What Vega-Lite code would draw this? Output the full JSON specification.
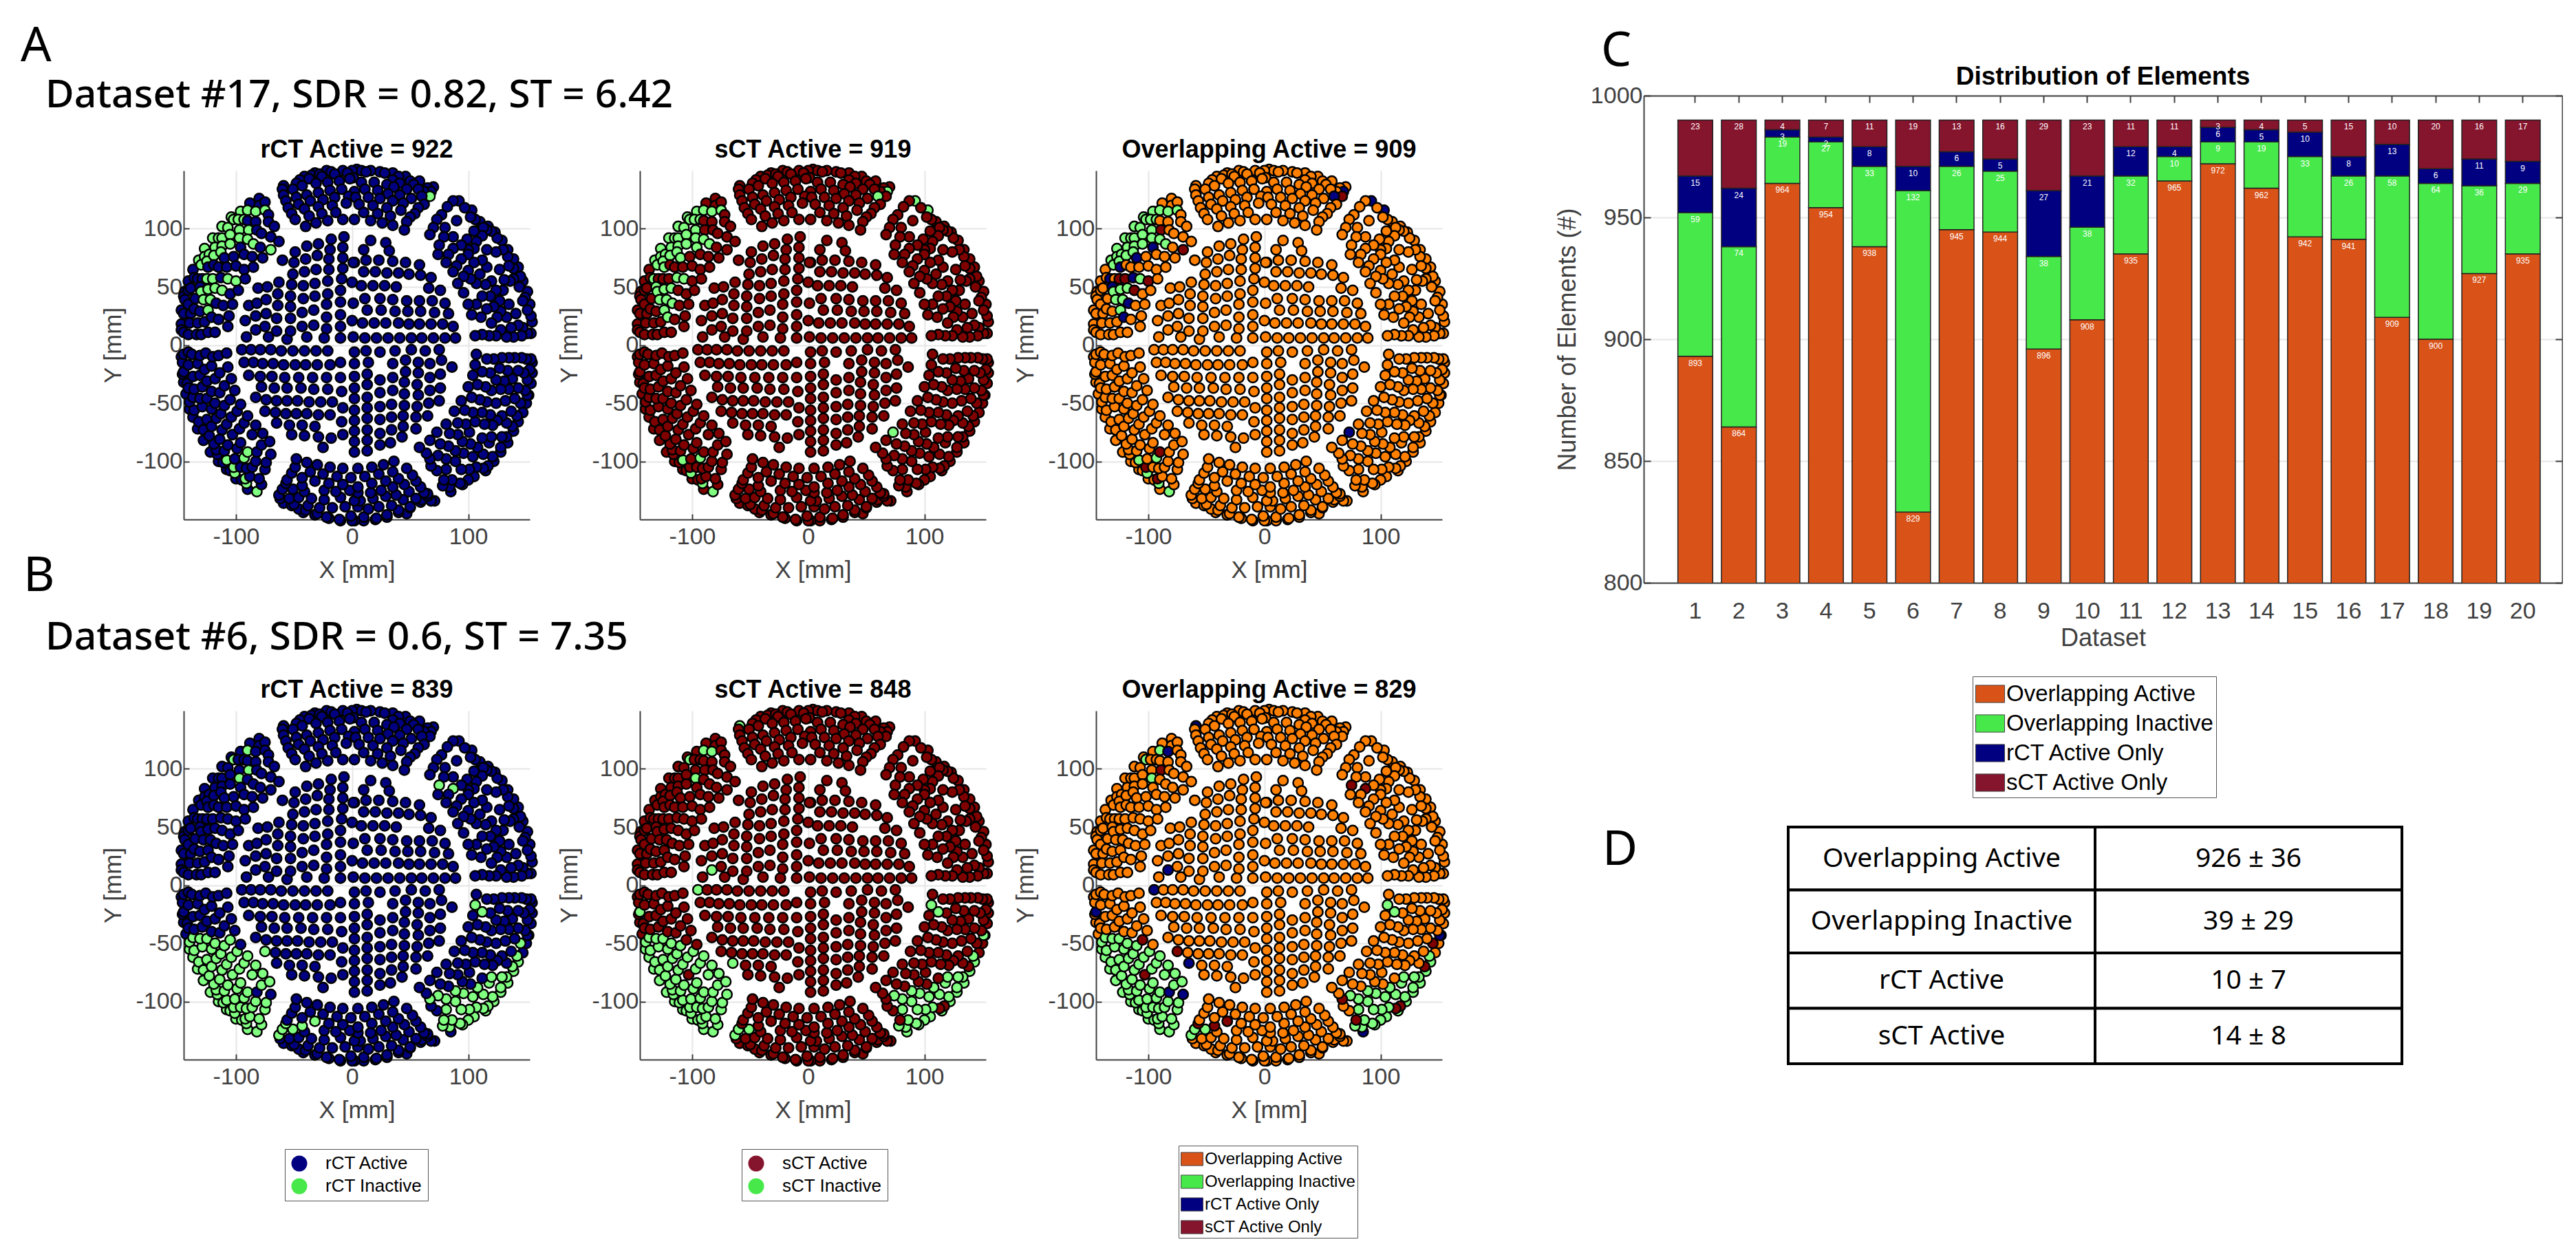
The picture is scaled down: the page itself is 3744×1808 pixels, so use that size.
{"$schema":"https://vega.github.io/schema/vega-lite/v6.json","padding":{"left":30,"top":33,"right":0,"bottom":0},"background":"white","config":{"view":{"stroke":null},"font":"Liberation Sans","title":{"font":"Liberation Sans","color":"#000"},"axis":{"labelFont":"Liberation Sans","titleFont":"Liberation Sans","labelColor":"#404040","titleColor":"#404040","domainColor":"#404040","tickColor":"#404040","gridColor":"#e6e6e6","gridWidth":2,"domainWidth":2,"tickWidth":2,"labelFontSize":34,"titleFontSize":35,"titleFontWeight":"normal"},"legend":{"labelFont":"Liberation Sans","labelColor":"#000","fillColor":"white","strokeColor":"#555","labelLimit":500},"concat":{"spacing":0}},
"datasets":{"bars":[
{"Dataset":1,"Overlapping Active":893,"Overlapping Inactive":59,"rCT Active Only":15,"sCT Active Only":23},
{"Dataset":2,"Overlapping Active":864,"Overlapping Inactive":74,"rCT Active Only":24,"sCT Active Only":28},
{"Dataset":3,"Overlapping Active":964,"Overlapping Inactive":19,"rCT Active Only":3,"sCT Active Only":4},
{"Dataset":4,"Overlapping Active":954,"Overlapping Inactive":27,"rCT Active Only":2,"sCT Active Only":7},
{"Dataset":5,"Overlapping Active":938,"Overlapping Inactive":33,"rCT Active Only":8,"sCT Active Only":11},
{"Dataset":6,"Overlapping Active":829,"Overlapping Inactive":132,"rCT Active Only":10,"sCT Active Only":19},
{"Dataset":7,"Overlapping Active":945,"Overlapping Inactive":26,"rCT Active Only":6,"sCT Active Only":13},
{"Dataset":8,"Overlapping Active":944,"Overlapping Inactive":25,"rCT Active Only":5,"sCT Active Only":16},
{"Dataset":9,"Overlapping Active":896,"Overlapping Inactive":38,"rCT Active Only":27,"sCT Active Only":29},
{"Dataset":10,"Overlapping Active":908,"Overlapping Inactive":38,"rCT Active Only":21,"sCT Active Only":23},
{"Dataset":11,"Overlapping Active":935,"Overlapping Inactive":32,"rCT Active Only":12,"sCT Active Only":11},
{"Dataset":12,"Overlapping Active":965,"Overlapping Inactive":10,"rCT Active Only":4,"sCT Active Only":11},
{"Dataset":13,"Overlapping Active":972,"Overlapping Inactive":9,"rCT Active Only":6,"sCT Active Only":3},
{"Dataset":14,"Overlapping Active":962,"Overlapping Inactive":19,"rCT Active Only":5,"sCT Active Only":4},
{"Dataset":15,"Overlapping Active":942,"Overlapping Inactive":33,"rCT Active Only":10,"sCT Active Only":5},
{"Dataset":16,"Overlapping Active":941,"Overlapping Inactive":26,"rCT Active Only":8,"sCT Active Only":15},
{"Dataset":17,"Overlapping Active":909,"Overlapping Inactive":58,"rCT Active Only":13,"sCT Active Only":10},
{"Dataset":18,"Overlapping Active":900,"Overlapping Inactive":64,"rCT Active Only":6,"sCT Active Only":20},
{"Dataset":19,"Overlapping Active":927,"Overlapping Inactive":36,"rCT Active Only":11,"sCT Active Only":16},
{"Dataset":20,"Overlapping Active":935,"Overlapping Inactive":29,"rCT Active Only":9,"sCT Active Only":17}],
"t1":[{"r":"Overlapping Active","c":"l","t":"Overlapping Active"},{"r":"Overlapping Active","c":"v","t":"926 ± 36"},{"r":"Overlapping Inactive","c":"l","t":"Overlapping Inactive"},{"r":"Overlapping Inactive","c":"v","t":"39 ± 29"}],
"t2":[{"r":"rCT Active","c":"l","t":"rCT Active"},{"r":"rCT Active","c":"v","t":"10 ± 7"},{"r":"sCT Active","c":"l","t":"sCT Active"},{"r":"sCT Active","c":"v","t":"14 ± 8"}],
"lr":[{"st":"rCT Active"},{"st":"rCT Inactive"}],"ls":[{"st":"sCT Active"},{"st":"sCT Inactive"}],"lo":[{"st":"Overlapping Active"},{"st":"Overlapping Inactive"},{"st":"rCT Active Only"},{"st":"sCT Active Only"}],
"pts":[
{"x":-45,"y":142},{"x":-35,"y":146},{"x":-28,"y":147},{"x":-18,"y":149},{"x":-8,"y":150},{"x":0,"y":150},{"x":8,"y":150},{"x":16,"y":150},{"x":28,"y":148},{"x":40,"y":145},{"x":50,"y":141},{"x":62,"y":132},{"x":65,"y":135},{"x":110,"y":106},{"x":117,"y":102},{"x":123,"y":97},{"x":129,"y":90},{"x":134,"y":82},{"x":139,"y":74},{"x":143,"y":67},{"x":147,"y":55},{"x":151,"y":46},{"x":153,"y":35},{"x":155,"y":20},{"x":155,"y":-15},{"x":155,"y":-24},{"x":154,"y":-33},{"x":152,"y":-43},{"x":150,"y":-50},{"x":147,"y":-58},{"x":143,"y":-66,"b":"I"},{"x":139,"y":-74,"b":"I"},{"x":134,"y":-84,"b":"I"},{"x":128,"y":-92,"b":"I"},{"x":122,"y":-100,"b":"I"},{"x":115,"y":-108,"b":"I"},{"x":105,"y":-113,"b":"I"},{"x":95,"y":-120,"b":"I"},{"x":-50,"y":-137},{"x":-40,"y":-142},{"x":-30,"y":-145},{"x":-20,"y":-149},{"x":-10,"y":-151},{"x":0,"y":-151},{"x":10,"y":-151},{"x":20,"y":-150},{"x":30,"y":-148},{"x":40,"y":-144},{"x":50,"y":-140},{"x":60,"y":-133},{"x":65,"y":-128},{"x":-146,"y":-15},{"x":-146,"y":-25},{"x":-145,"y":-32},{"x":-143,"y":-42},{"x":-140,"y":-55,"b":"I"},{"x":-137,"y":-62,"b":"I"},{"x":-133,"y":-72,"b":"I"},{"x":-128,"y":-82,"b":"I"},{"x":-122,"y":-92,"b":"I"},{"x":-115,"y":-100,"b":"I"},{"x":-108,"y":-107,"b":"I"},{"x":-100,"y":-115,"b":"I"},{"x":-90,"y":-124,"b":"I"},{"x":-147,"y":18},{"x":-147,"y":30},{"x":-145,"y":42},{"x":-141,"y":55},{"x":-137,"y":65},{"x":-132,"y":73,"a":"I"},{"x":-127,"y":83,"a":"I"},{"x":-120,"y":92,"a":"I"},{"x":-112,"y":102,"a":"I"},{"x":-104,"y":110,"a":"I"},{"x":-96,"y":115,"a":"I"},{"x":-88,"y":122},
{"x":-7,"y":93},{"x":-18,"y":91},{"x":-29,"y":87},{"x":-39,"y":85},{"x":-49,"y":80},{"x":-60,"y":73},{"x":-8,"y":84},{"x":-19,"y":82},{"x":-30,"y":77},{"x":-40,"y":74},{"x":-50,"y":71},{"x":-8,"y":75},{"x":-20,"y":74},{"x":-31,"y":65},{"x":-41,"y":63},{"x":-51,"y":61},{"x":1,"y":71},{"x":-8,"y":66},{"x":-20,"y":65},{"x":-9,"y":57},{"x":0,"y":54},{"x":-21,"y":55},{"x":-32,"y":53},{"x":-42,"y":51},{"x":-52,"y":52},{"x":-63,"y":54},{"x":-73,"y":50},{"x":-81,"y":49},{"x":-10,"y":47},{"x":-21,"y":44},{"x":-32,"y":42},{"x":-42,"y":40},{"x":-53,"y":42},{"x":-64,"y":44},{"x":-74,"y":39},{"x":-82,"y":36},{"x":-89,"y":34},{"x":-10,"y":37},{"x":-22,"y":35},{"x":1,"y":36},{"x":-33,"y":30},{"x":-43,"y":28},{"x":-53,"y":33},{"x":-64,"y":34},{"x":-74,"y":27},{"x":-83,"y":25},{"x":-92,"y":21},{"x":-10,"y":26},{"x":-22,"y":24},{"x":0,"y":21},{"x":-33,"y":17},{"x":-43,"y":16},{"x":-53,"y":23},{"x":-65,"y":23},{"x":-75,"y":16},{"x":-83,"y":13,"b":"R"},{"x":-91,"y":7},{"x":-10,"y":16},{"x":-22,"y":14},{"x":1,"y":7},{"x":-53,"y":12},{"x":-65,"y":12},{"x":-39,"y":7},{"x":-72,"y":7},{"x":-56,"y":5},{"x":-24,"y":6},{"x":-10,"y":6},
{"x":16,"y":90},{"x":29,"y":88},{"x":10,"y":82},{"x":32,"y":81},{"x":2,"y":71},{"x":12,"y":73},{"x":23,"y":73},{"x":35,"y":72},{"x":46,"y":71},{"x":58,"y":69},{"x":10,"y":63},{"x":20,"y":63},{"x":30,"y":62},{"x":40,"y":62},{"x":49,"y":61},{"x":59,"y":60},{"x":68,"y":58},{"x":8,"y":51},{"x":18,"y":51},{"x":28,"y":51},{"x":38,"y":50},{"x":66,"y":49},{"x":76,"y":47},{"x":11,"y":40},{"x":24,"y":40},{"x":35,"y":39},{"x":47,"y":38},{"x":58,"y":38},{"x":69,"y":38},{"x":80,"y":36},{"x":13,"y":30},{"x":25,"y":30},{"x":37,"y":29},{"x":48,"y":29},{"x":59,"y":29},{"x":71,"y":28},{"x":83,"y":27},{"x":9,"y":19},{"x":19,"y":19},{"x":29,"y":19},{"x":40,"y":19},{"x":49,"y":18},{"x":58,"y":18},{"x":68,"y":18},{"x":78,"y":18},{"x":87,"y":16},{"x":11,"y":6},{"x":21,"y":6},{"x":31,"y":6},{"x":41,"y":6},{"x":51,"y":6},{"x":60,"y":6},{"x":70,"y":6},{"x":80,"y":6},{"x":89,"y":6},
{"x":-95,"y":-4,"b":"R"},{"x":-87,"y":-4},{"x":-79,"y":-4},{"x":-70,"y":-4},{"x":-61,"y":-5},{"x":-51,"y":-5},{"x":-41,"y":-5},{"x":-31,"y":-5},{"x":-21,"y":-5},{"x":-93,"y":-15},{"x":-85,"y":-15},{"x":-77,"y":-16},{"x":-68,"y":-16},{"x":-59,"y":-17},{"x":-49,"y":-17},{"x":-40,"y":-17},{"x":-30,"y":-17},{"x":-19,"y":-17},{"x":-10,"y":-15},{"x":-89,"y":-26},{"x":-79,"y":-27},{"x":-69,"y":-27},{"x":-58,"y":-28},{"x":-46,"y":-28},{"x":-34,"y":-28},{"x":-22,"y":-28},{"x":-10,"y":-28},{"x":-78,"y":-36},{"x":-67,"y":-37},{"x":-56,"y":-37},{"x":-44,"y":-37},{"x":-33,"y":-38},{"x":-21,"y":-38},{"x":-9,"y":-40},{"x":-83,"y":-45},{"x":-74,"y":-47},{"x":-65,"y":-48},{"x":-56,"y":-48},{"x":-47,"y":-48},{"x":-37,"y":-49},{"x":-27,"y":-49},{"x":-17,"y":-49},{"x":-75,"y":-57,"b":"S"},{"x":-66,"y":-58},{"x":-57,"y":-59},{"x":-48,"y":-59},{"x":-39,"y":-59},{"x":-29,"y":-60},{"x":-19,"y":-60},{"x":-8,"y":-54},{"x":-65,"y":-67,"b":"R"},{"x":-54,"y":-69},{"x":-43,"y":-69},{"x":-32,"y":-70},{"x":-9,"y":-66},{"x":-18,"y":-80},{"x":-8,"y":-77},{"x":-52,"y":-77},{"x":-41,"y":-78},{"x":-29,"y":-79},{"x":-25,"y":-88},
{"x":2,"y":-6},{"x":2,"y":-16},{"x":2,"y":-27},{"x":2,"y":-37},{"x":2,"y":-46},{"x":2,"y":-56},{"x":2,"y":-65},{"x":2,"y":-74},{"x":2,"y":-83},{"x":2,"y":-92},{"x":12,"y":-5},{"x":14,"y":-15},{"x":13,"y":-25},{"x":13,"y":-34},{"x":13,"y":-45},{"x":13,"y":-54},{"x":13,"y":-63},{"x":13,"y":-73},{"x":13,"y":-82},{"x":13,"y":-91},{"x":24,"y":-6},{"x":24,"y":-30},{"x":24,"y":-41},{"x":24,"y":-53},{"x":24,"y":-64},{"x":24,"y":-76},{"x":24,"y":-86},{"x":37,"y":-5},{"x":35,"y":-16},{"x":35,"y":-28},{"x":35,"y":-39},{"x":34,"y":-51},{"x":34,"y":-62},{"x":34,"y":-73},{"x":33,"y":-84},{"x":51,"y":-4},{"x":46,"y":-13},{"x":46,"y":-23},{"x":45,"y":-32},{"x":45,"y":-42},{"x":45,"y":-52},{"x":44,"y":-61},{"x":44,"y":-70},{"x":43,"y":-79},{"x":63,"y":-5},{"x":57,"y":-15},{"x":57,"y":-24},{"x":56,"y":-34},{"x":57,"y":-43},{"x":56,"y":-53},{"x":55,"y":-62},{"x":55,"y":-72},{"x":75,"y":-4},{"x":67,"y":-16},{"x":67,"y":-28},{"x":67,"y":-39},{"x":66,"y":-50},{"x":65,"y":-61},{"x":77,"y":-13},{"x":76,"y":-25},{"x":76,"y":-37},{"x":75,"y":-48},{"x":86,"y":-19},
{"x":-63,"y":89},{"x":-67,"y":102},{"x":-72,"y":106},{"x":-75,"y":123},{"x":-80,"y":126},{"x":-70,"y":93},{"x":-70,"y":82,"a":"S"},{"x":-79,"y":84},{"x":-78,"y":96},{"x":-82,"y":99},{"x":-83,"y":106},{"x":-89,"y":99,"a":"S","b":"S"},{"x":-85,"y":87,"a":"I"},{"x":-90,"y":91,"a":"I"},{"x":-96,"y":84,"a":"R"},{"x":-77,"y":75},{"x":-86,"y":76},{"x":-93,"y":78},{"x":-102,"y":76},{"x":-110,"y":75,"a":"R"},{"x":-85,"y":67},{"x":-93,"y":65},{"x":-100,"y":68},{"x":-108,"y":67},{"x":-115,"y":67},{"x":-119,"y":69},{"x":-124,"y":67,"a":"R"},{"x":-92,"y":57},{"x":-100,"y":55,"a":"S"},{"x":-107,"y":57,"a":"I"},{"x":-113,"y":58,"a":"R"},{"x":-120,"y":57,"a":"S"},{"x":-125,"y":57,"a":"S"},{"x":-129,"y":57},{"x":-133,"y":57,"a":"R"},{"x":-98,"y":47},{"x":-105,"y":44},{"x":-112,"y":47,"a":"S"},{"x":-118,"y":49,"a":"I"},{"x":-124,"y":48,"a":"I"},{"x":-130,"y":46,"a":"I"},{"x":-131,"y":50,"a":"R"},{"x":-103,"y":35},{"x":-111,"y":34},{"x":-117,"y":36,"a":"R"},{"x":-122,"y":39,"a":"I"},{"x":-128,"y":39,"a":"I"},{"x":-135,"y":40},{"x":-139,"y":49},{"x":-106,"y":25},{"x":-115,"y":22},{"x":-121,"y":24,"a":"R"},{"x":-124,"y":30,"a":"I"},{"x":-131,"y":29},{"x":-136,"y":31},{"x":-141,"y":35},{"x":-144,"y":39},{"x":-107,"y":16},{"x":-118,"y":11},{"x":-124,"y":11},{"x":-127,"y":20},{"x":-130,"y":9},{"x":-133,"y":19},{"x":-134,"y":9},{"x":-139,"y":27},{"x":-140,"y":19},{"x":-141,"y":9},{"x":-145,"y":27},{"x":-145,"y":11},{"x":-147,"y":13},{"x":-97,"y":92,"a":"I","b":"I"},{"x":-97,"y":99,"a":"I"},{"x":-105,"y":87,"a":"I"},{"x":-105,"y":95,"a":"I"},{"x":-112,"y":85,"a":"I"},{"x":-107,"y":101,"a":"I"},{"x":-112,"y":92,"a":"I"},{"x":-119,"y":77,"a":"I"},{"x":-113,"y":80,"a":"I"},{"x":-123,"y":78,"a":"I"},{"x":-127,"y":76,"a":"I"},{"x":-130,"y":69,"a":"I"},{"x":-125,"y":72,"a":"I"},{"x":-83,"y":115,"a":"I","b":"R"},{"x":-90,"y":116,"a":"I","b":"I"},{"x":-75,"y":116,"a":"I"},{"x":-72,"y":112},{"x":-80,"y":120},{"x":-93,"y":108,"a":"I"},{"x":-98,"y":108,"a":"I"},{"x":-102,"y":108,"a":"I","b":"I"},{"x":-115,"y":92,"a":"I"},{"x":-118,"y":84,"a":"I"},{"x":-90,"y":107},{"x":-136,"y":58},{"x":-141,"y":47},{"x":-144,"y":46},
{"x":-59,"y":137,"b":"R"},{"x":-60,"y":134},{"x":-59,"y":129},{"x":-57,"y":124},{"x":-55,"y":118},{"x":-52,"y":113},{"x":-49,"y":108},{"x":-40,"y":102},{"x":-31,"y":105},{"x":-21,"y":107},{"x":-8,"y":108},{"x":2,"y":108},{"x":-37,"y":111},{"x":-26,"y":113},{"x":-14,"y":114},{"x":-41,"y":117},{"x":-29,"y":119},{"x":-17,"y":120},{"x":-5,"y":122},{"x":-46,"y":121},{"x":-36,"y":124},{"x":-25,"y":125},{"x":-15,"y":127},{"x":-3,"y":128},{"x":-48,"y":127},{"x":-39,"y":129},{"x":-29,"y":131},{"x":-19,"y":133},{"x":-9,"y":134},{"x":2,"y":132},{"x":-51,"y":134},{"x":-43,"y":137},{"x":-31,"y":139},{"x":-21,"y":140},{"x":-11,"y":141},{"x":-2,"y":143},{"x":-48,"y":139},{"x":-37,"y":143},{"x":-26,"y":145},{"x":-15,"y":147},{"x":-4,"y":148},{"x":-41,"y":145},{"x":-32,"y":148},{"x":-22,"y":150},
{"x":16,"y":107},{"x":26,"y":105},{"x":35,"y":103},{"x":45,"y":99},{"x":47,"y":106},{"x":50,"y":110},{"x":54,"y":113},{"x":57,"y":118},{"x":62,"y":121},{"x":10,"y":114},{"x":22,"y":113},{"x":33,"y":111},{"x":42,"y":116},{"x":6,"y":121},{"x":18,"y":120},{"x":30,"y":118},{"x":44,"y":122},{"x":3,"y":127},{"x":14,"y":127},{"x":24,"y":126},{"x":35,"y":124},{"x":51,"y":126},{"x":11,"y":134},{"x":22,"y":133},{"x":31,"y":130},{"x":41,"y":129},{"x":60,"y":128,"a":"R"},{"x":67,"y":128,"a":"S"},{"x":68,"y":132,"a":"R"},{"x":70,"y":136},{"x":57,"y":134},{"x":58,"y":141},{"x":47,"y":134},{"x":36,"y":136},{"x":8,"y":140},{"x":19,"y":140},{"x":30,"y":138},{"x":41,"y":139},{"x":46,"y":145},{"x":35,"y":148},{"x":24,"y":149},{"x":12,"y":149},{"x":1,"y":144},{"x":53,"y":138},{"x":4,"y":151},{"x":35,"y":142},
{"x":67,"y":95},{"x":70,"y":101},{"x":73,"y":108},{"x":77,"y":112},{"x":82,"y":119},{"x":87,"y":124},{"x":92,"y":124,"a":"R"},{"x":103,"y":116,"a":"R"},{"x":97,"y":118},{"x":90,"y":107},{"x":80,"y":101},{"x":102,"y":110},{"x":79,"y":93},{"x":87,"y":93},{"x":75,"y":86,"b":"S"},{"x":87,"y":83,"b":"S"},{"x":94,"y":86},{"x":99,"y":91},{"x":105,"y":98},{"x":74,"y":78},{"x":83,"y":78},{"x":100,"y":82},{"x":94,"y":74},{"x":105,"y":83},{"x":107,"y":89},{"x":112,"y":94},{"x":116,"y":99},{"x":81,"y":71},{"x":90,"y":68},{"x":100,"y":78},{"x":87,"y":63},{"x":96,"y":59},{"x":100,"y":64},{"x":105,"y":71},{"x":112,"y":73},{"x":116,"y":82},{"x":124,"y":80},{"x":116,"y":67},{"x":127,"y":65},{"x":91,"y":53},{"x":102,"y":57},{"x":110,"y":61},{"x":96,"y":45},{"x":107,"y":53},{"x":115,"y":52},{"x":120,"y":55},{"x":131,"y":56},{"x":124,"y":47},{"x":136,"y":55},{"x":144,"y":50},{"x":100,"y":35},{"x":112,"y":42},{"x":119,"y":42},{"x":130,"y":47},{"x":127,"y":38},{"x":107,"y":35},{"x":135,"y":68},{"x":139,"y":66},{"x":134,"y":76},{"x":139,"y":57},{"x":103,"y":26},{"x":116,"y":31},{"x":122,"y":33},{"x":135,"y":35},{"x":141,"y":27},{"x":147,"y":38},{"x":111,"y":24},{"x":120,"y":19},{"x":125,"y":24},{"x":133,"y":24},{"x":143,"y":17},{"x":128,"y":29},{"x":130,"y":82},{"x":125,"y":92},{"x":120,"y":98},{"x":113,"y":101},{"x":106,"y":108},{"x":151,"y":30},{"x":154,"y":25},{"x":149,"y":41},{"x":145,"y":59},{"x":106,"y":8},{"x":112,"y":9},{"x":118,"y":8},{"x":124,"y":8},{"x":133,"y":7},{"x":139,"y":7},{"x":146,"y":8},{"x":151,"y":10},{"x":154,"y":10},{"x":128,"y":13},{"x":137,"y":15},{"x":147,"y":15},
{"x":107,"y":-8},{"x":116,"y":-12},{"x":122,"y":-12},{"x":129,"y":-11},{"x":135,"y":-11},{"x":140,"y":-11},{"x":146,"y":-11},{"x":150,"y":-12},{"x":154,"y":-12},{"x":106,"y":-17,"b":"I"},{"x":112,"y":-23,"b":"I"},{"x":119,"y":-24},{"x":127,"y":-20},{"x":134,"y":-22},{"x":143,"y":-22},{"x":148,"y":-24},{"x":153,"y":-21},{"x":104,"y":-26},{"x":124,"y":-30},{"x":131,"y":-31},{"x":138,"y":-29},{"x":151,"y":-30},{"x":100,"y":-36},{"x":108,"y":-34},{"x":115,"y":-36},{"x":120,"y":-39},{"x":128,"y":-38},{"x":135,"y":-38},{"x":143,"y":-37},{"x":149,"y":-39},{"x":151,"y":-43,"b":"R"},{"x":94,"y":-48},{"x":103,"y":-45},{"x":110,"y":-47},{"x":116,"y":-49},{"x":124,"y":-50},{"x":132,"y":-48},{"x":140,"y":-46},{"x":145,"y":-50,"b":"S"},{"x":88,"y":-57},{"x":97,"y":-56},{"x":104,"y":-58},{"x":112,"y":-58},{"x":119,"y":-60},{"x":129,"y":-61},{"x":137,"y":-57},{"x":142,"y":-61,"b":"I"},{"x":81,"y":-68},{"x":91,"y":-67},{"x":98,"y":-68},{"x":106,"y":-66},{"x":114,"y":-68},{"x":121,"y":-69},{"x":125,"y":-65},{"x":133,"y":-67},{"x":138,"y":-70,"b":"S"},{"x":73,"y":-75,"a":"R"},{"x":84,"y":-76},{"x":91,"y":-77},{"x":101,"y":-75},{"x":112,"y":-80},{"x":120,"y":-79,"b":"I"},{"x":129,"y":-79,"b":"I"},{"x":133,"y":-79,"b":"I"},{"x":67,"y":-82},{"x":76,"y":-85},{"x":83,"y":-87},{"x":95,"y":-83},{"x":102,"y":-85},{"x":108,"y":-88,"b":"I"},{"x":118,"y":-84,"b":"I"},{"x":128,"y":-88,"b":"I"},{"x":58,"y":-88},{"x":64,"y":-93},{"x":67,"y":-98,"b":"S"},{"x":74,"y":-95,"b":"I"},{"x":81,"y":-98,"b":"I"},{"x":89,"y":-91,"b":"I"},{"x":96,"y":-93,"b":"I"},{"x":104,"y":-96,"b":"I"},{"x":113,"y":-94,"b":"I"},{"x":121,"y":-96,"b":"I"},{"x":68,"y":-104},{"x":73,"y":-108},{"x":81,"y":-107,"b":"I"},{"x":89,"y":-100,"b":"I"},{"x":94,"y":-107,"b":"I"},{"x":101,"y":-107,"b":"I"},{"x":107,"y":-105,"b":"I"},{"x":113,"y":-106,"b":"S"},{"x":117,"y":-104,"b":"S"},{"x":79,"y":-116,"b":"S"},{"x":86,"y":-116,"b":"I"},{"x":93,"y":-119,"b":"I"},{"x":100,"y":-116,"b":"I"},{"x":84,"y":-122,"b":"I"},{"x":85,"y":-126,"b":"R"},{"x":78,"y":-121,"b":"I"},
{"x":36,"y":-100},{"x":47,"y":-106},{"x":27,"y":-103},{"x":17,"y":-105},{"x":5,"y":-106},{"x":35,"y":-109},{"x":52,"y":-112},{"x":23,"y":-111},{"x":11,"y":-113},{"x":40,"y":-115},{"x":55,"y":-117},{"x":29,"y":-117},{"x":17,"y":-119},{"x":5,"y":-122},{"x":45,"y":-120},{"x":59,"y":-122},{"x":35,"y":-122},{"x":25,"y":-125},{"x":16,"y":-127},{"x":5,"y":-127},{"x":49,"y":-126},{"x":62,"y":-127},{"x":38,"y":-129},{"x":29,"y":-130},{"x":18,"y":-132},{"x":7,"y":-134},{"x":55,"y":-132},{"x":44,"y":-133},{"x":65,"y":-130},{"x":68,"y":-134},{"x":71,"y":-134},{"x":34,"y":-138},{"x":23,"y":-139},{"x":14,"y":-141},{"x":5,"y":-139},{"x":50,"y":-139},{"x":40,"y":-142},{"x":30,"y":-146},{"x":21,"y":-149},{"x":10,"y":-148},{"x":2,"y":-151},{"x":59,"y":-135},{"x":47,"y":-145},
{"x":-48,"y":-98},{"x":-49,"y":-105},{"x":-39,"y":-101},{"x":-30,"y":-103},{"x":-19,"y":-105},{"x":-8,"y":-106},{"x":-52,"y":-110},{"x":-36,"y":-109},{"x":-25,"y":-111},{"x":-13,"y":-113},{"x":-1,"y":-114},{"x":-56,"y":-116},{"x":-43,"y":-114},{"x":-32,"y":-117,"b":"S"},{"x":-20,"y":-119},{"x":-8,"y":-120},{"x":-60,"y":-124,"b":"I"},{"x":-57,"y":-119,"b":"S"},{"x":-43,"y":-121,"b":"S"},{"x":-51,"y":-124,"b":"I"},{"x":-41,"y":-126},{"x":-24,"y":-125},{"x":-14,"y":-126},{"x":-2,"y":-125},{"x":-63,"y":-129,"b":"I"},{"x":-54,"y":-132},{"x":-46,"y":-131},{"x":-35,"y":-132},{"x":-24,"y":-133},{"x":-10,"y":-131},{"x":2,"y":-134},{"x":-62,"y":-132},{"x":-52,"y":-138},{"x":-38,"y":-138},{"x":-28,"y":-140},{"x":-17,"y":-140},{"x":-6,"y":-139},{"x":-42,"y":-144},{"x":-32,"y":-146},{"x":-22,"y":-148},{"x":-11,"y":-150},{"x":-1,"y":-147},{"x":-59,"y":-136},{"x":-46,"y":-141},
{"x":-108,"y":-7},{"x":-115,"y":-9},{"x":-120,"y":-10},{"x":-126,"y":-7},{"x":-131,"y":-9},{"x":-138,"y":-8},{"x":-141,"y":-6},{"x":-145,"y":-8},{"x":-147,"y":-10},{"x":-121,"y":-18},{"x":-107,"y":-19},{"x":-133,"y":-16},{"x":-141,"y":-17},{"x":-127,"y":-21},{"x":-145,"y":-23,"b":"R"},{"x":-114,"y":-24},{"x":-104,"y":-29},{"x":-137,"y":-27},{"x":-131,"y":-26},{"x":-118,"y":-29},{"x":-125,"y":-31},{"x":-142,"y":-33},{"x":-129,"y":-36},{"x":-110,"y":-35},{"x":-101,"y":-39},{"x":-121,"y":-40},{"x":-136,"y":-38},{"x":-141,"y":-37},{"x":-114,"y":-41},{"x":-105,"y":-47,"b":"S"},{"x":-96,"y":-51},{"x":-125,"y":-46,"b":"I"},{"x":-137,"y":-45,"b":"I"},{"x":-131,"y":-46,"b":"I"},{"x":-118,"y":-50,"b":"I"},{"x":-110,"y":-52,"b":"I"},{"x":-140,"y":-49,"b":"I"},{"x":-129,"y":-53,"b":"I"},{"x":-121,"y":-55,"b":"I"},{"x":-113,"y":-59,"b":"I"},{"x":-99,"y":-57,"b":"I"},{"x":-90,"y":-61,"b":"I"},{"x":-136,"y":-56,"b":"I"},{"x":-104,"y":-62,"b":"I"},{"x":-125,"y":-64,"b":"I"},{"x":-117,"y":-63,"b":"I"},{"x":-132,"y":-66,"b":"I"},{"x":-83,"y":-69,"b":"I"},{"x":-93,"y":-67,"b":"I"},{"x":-108,"y":-68,"b":"I"},{"x":-97,"y":-72,"b":"I"},{"x":-112,"y":-73,"b":"I"},{"x":-121,"y":-70,"b":"I"},{"x":-128,"y":-73,"b":"I"},{"x":-86,"y":-77,"b":"I"},{"x":-77,"y":-76,"b":"I"},{"x":-103,"y":-77,"b":"S"},{"x":-114,"y":-81,"b":"I"},{"x":-123,"y":-78,"b":"I"},{"x":-71,"y":-83,"b":"I"},{"x":-78,"y":-86,"b":"I"},{"x":-96,"y":-84,"b":"I"},{"x":-107,"y":-86,"b":"I"},{"x":-119,"y":-85,"b":"I"},{"x":-70,"y":-94,"b":"R"},{"x":-82,"y":-92,"b":"R"},{"x":-90,"y":-92,"a":"S","b":"I"},{"x":-93,"y":-97,"a":"I","b":"I"},{"x":-99,"y":-89,"b":"I"},{"x":-110,"y":-91,"b":"I"},{"x":-117,"y":-90,"b":"I"},{"x":-74,"y":-101,"b":"I"},{"x":-83,"y":-100,"b":"I"},{"x":-91,"y":-106,"b":"I"},{"x":-101,"y":-98,"b":"I"},{"x":-108,"y":-99,"a":"I","b":"I"},{"x":-116,"y":-94,"b":"I"},{"x":-75,"y":-107,"b":"I"},{"x":-86,"y":-105,"b":"I"},{"x":-96,"y":-105,"b":"I"},{"x":-102,"y":-105,"a":"S","b":"I"},{"x":-101,"y":-110,"a":"I","b":"I"},{"x":-80,"y":-115,"b":"I"},{"x":-78,"y":-120,"b":"I"},{"x":-82,"y":-126,"a":"I","b":"I"},{"x":-88,"y":-113,"b":"I"},{"x":-92,"y":-115,"a":"S","b":"I"},{"x":-91,"y":-119,"a":"I","b":"I"},{"x":-95,"y":-116,"b":"I"},{"x":-105,"y":-108,"b":"I"},{"x":-111,"y":-101,"b":"I"}
]},
"hconcat":[
{"spacing":108,"bounds":"flush","vconcat":[
{"width":1,"height":1,"data":{"values":[{"s":1}]},"mark":{"type":"point","opacity":0},"encoding":{}},
{"spacing":785,"bounds":"flush","vconcat":[
{"title":{"text":"A","font":"Noto Sans","fontSize":70,"fontWeight":"normal","anchor":"start","frame":"group","baseline":"alphabetic","offset":-49,"dx":-237},"bounds":"flush","vconcat":[
{"title":{"text":"Dataset #17, SDR = 0.82, ST = 6.42","font":"Noto Sans","fontSize":57,"fontWeight":500,"anchor":"start","frame":"group","baseline":"alphabetic","offset":-13,"dx":-201},"spacing":160,"bounds":"flush","hconcat":[
{"title":{"text":"rCT Active = 922","fontSize":36,"fontWeight":"bold","offset":-3},"width":503,"height":507,"data":{"name":"pts"},"transform":[{"calculate":"datum.a=='I'||datum.a=='S'?'rCT Inactive':'rCT Active'","as":"st"},{"calculate":"datum.x*datum.x+datum.y*datum.y","as":"r"}],"mark":{"type":"circle","size":210,"stroke":"black","strokeWidth":2.5,"opacity":1},"encoding":{"x":{"field":"x","type":"quantitative","title":"X [mm]","scale":{"domain":[-145,153],"nice":false,"zero":false},"axis":{"values":[-100,0,100],"labelExpr":"replace(datum.label,'−','-')","tickSize":-8,"grid":true,"labelPadding":16,"titlePadding":14}},"y":{"field":"y","type":"quantitative","title":"Y [mm]","scale":{"domain":[-150,150],"nice":false,"zero":false},"axis":{"values":[-100,-50,0,50,100],"labelExpr":"replace(datum.label,'−','-')","tickSize":-8,"grid":true,"labelPadding":10,"titlePadding":14}},"color":{"field":"st","type":"nominal","scale":{"domain":["rCT Active","rCT Inactive"],"range":["#000080","#80ff80"]},"legend":null},"order":{"field":"r","type":"quantitative","sort":"descending"}}},
{"title":{"text":"sCT Active = 919","fontSize":36,"fontWeight":"bold","offset":-3},"width":503,"height":507,"data":{"name":"pts"},"transform":[{"calculate":"datum.a=='I'||datum.a=='R'?'sCT Inactive':'sCT Active'","as":"st"},{"calculate":"datum.x*datum.x+datum.y*datum.y","as":"r"}],"mark":{"type":"circle","size":210,"stroke":"black","strokeWidth":2.5,"opacity":1},"encoding":{"x":{"field":"x","type":"quantitative","title":"X [mm]","scale":{"domain":[-145,153],"nice":false,"zero":false},"axis":{"values":[-100,0,100],"labelExpr":"replace(datum.label,'−','-')","tickSize":-8,"grid":true,"labelPadding":16,"titlePadding":14}},"y":{"field":"y","type":"quantitative","title":"Y [mm]","scale":{"domain":[-150,150],"nice":false,"zero":false},"axis":{"values":[-100,-50,0,50,100],"labelExpr":"replace(datum.label,'−','-')","tickSize":-8,"grid":true,"labelPadding":10,"titlePadding":14}},"color":{"field":"st","type":"nominal","scale":{"domain":["sCT Active","sCT Inactive"],"range":["#800000","#80ff80"]},"legend":null},"order":{"field":"r","type":"quantitative","sort":"descending"}}},
{"title":{"text":"Overlapping Active = 909","fontSize":36,"fontWeight":"bold","offset":-3},"width":503,"height":507,"data":{"name":"pts"},"transform":[{"calculate":"datum.a=='I'?'Overlapping Inactive':datum.a=='R'?'rCT Active Only':datum.a=='S'?'sCT Active Only':'Overlapping Active'","as":"st"},{"calculate":"datum.x*datum.x+datum.y*datum.y","as":"r"}],"mark":{"type":"circle","size":210,"stroke":"black","strokeWidth":2.5,"opacity":1},"encoding":{"x":{"field":"x","type":"quantitative","title":"X [mm]","scale":{"domain":[-145,153],"nice":false,"zero":false},"axis":{"values":[-100,0,100],"labelExpr":"replace(datum.label,'−','-')","tickSize":-8,"grid":true,"labelPadding":16,"titlePadding":14}},"y":{"field":"y","type":"quantitative","title":"Y [mm]","scale":{"domain":[-150,150],"nice":false,"zero":false},"axis":{"values":[-100,-50,0,50,100],"labelExpr":"replace(datum.label,'−','-')","tickSize":-8,"grid":true,"labelPadding":10,"titlePadding":14}},"color":{"field":"st","type":"nominal","scale":{"domain":["Overlapping Active","Overlapping Inactive","rCT Active Only","sCT Active Only"],"range":["#ff8000","#80ff80","#000080","#800000"]},"legend":null},"order":{"field":"r","type":"quantitative","sort":"descending"}}}
],"resolve":{"scale":{"color":"independent"}}}]},
{"title":{"text":"B","font":"Noto Sans","fontSize":70,"fontWeight":"normal","anchor":"start","frame":"group","baseline":"alphabetic","offset":-31,"dx":-233},"bounds":"flush","vconcat":[
{"title":{"text":"Dataset #6, SDR = 0.6, ST = 7.35","font":"Noto Sans","fontSize":57,"fontWeight":500,"anchor":"start","frame":"group","baseline":"alphabetic","offset":-16,"dx":-201},"spacing":160,"bounds":"flush","hconcat":[
{"title":{"text":"rCT Active = 839","fontSize":36,"fontWeight":"bold","offset":-3},"width":503,"height":507,"layer":[{"data":{"name":"pts"},"transform":[{"calculate":"datum.b=='I'||datum.b=='S'?'rCT Inactive':'rCT Active'","as":"st"},{"calculate":"datum.x*datum.x+datum.y*datum.y","as":"r"}],"mark":{"type":"circle","size":210,"stroke":"black","strokeWidth":2.5,"opacity":1},"encoding":{"x":{"field":"x","type":"quantitative","title":"X [mm]","scale":{"domain":[-145,153],"nice":false,"zero":false},"axis":{"values":[-100,0,100],"labelExpr":"replace(datum.label,'−','-')","tickSize":-8,"grid":true,"labelPadding":16,"titlePadding":14}},"y":{"field":"y","type":"quantitative","title":"Y [mm]","scale":{"domain":[-150,150],"nice":false,"zero":false},"axis":{"values":[-100,-50,0,50,100],"labelExpr":"replace(datum.label,'−','-')","tickSize":-8,"grid":true,"labelPadding":10,"titlePadding":14}},"color":{"field":"st","type":"nominal","scale":{"domain":["rCT Active","rCT Inactive"],"range":["#000080","#80ff80"]},"legend":null},"order":{"field":"r","type":"quantitative","sort":"descending"}}},
{"data":{"name":"lr"},"mark":{"type":"circle","opacity":0},"encoding":{"color":{"field":"st","type":"nominal","scale":{"domain":["rCT Active","rCT Inactive"],"range":["#000080","#47e84a"]},"legend":{"title":null,"orient":"none","legendX":147,"legendY":637,"symbolType":"circle","symbolSize":529,"symbolOpacity":1,"labelFontSize":26,"labelOffset":25,"rowPadding":7,"padding":8}}}}],"resolve":{"scale":{"color":"independent"}}},
{"title":{"text":"sCT Active = 848","fontSize":36,"fontWeight":"bold","offset":-3},"width":503,"height":507,"layer":[{"data":{"name":"pts"},"transform":[{"calculate":"datum.b=='I'||datum.b=='R'?'sCT Inactive':'sCT Active'","as":"st"},{"calculate":"datum.x*datum.x+datum.y*datum.y","as":"r"}],"mark":{"type":"circle","size":210,"stroke":"black","strokeWidth":2.5,"opacity":1},"encoding":{"x":{"field":"x","type":"quantitative","title":"X [mm]","scale":{"domain":[-145,153],"nice":false,"zero":false},"axis":{"values":[-100,0,100],"labelExpr":"replace(datum.label,'−','-')","tickSize":-8,"grid":true,"labelPadding":16,"titlePadding":14}},"y":{"field":"y","type":"quantitative","title":"Y [mm]","scale":{"domain":[-150,150],"nice":false,"zero":false},"axis":{"values":[-100,-50,0,50,100],"labelExpr":"replace(datum.label,'−','-')","tickSize":-8,"grid":true,"labelPadding":10,"titlePadding":14}},"color":{"field":"st","type":"nominal","scale":{"domain":["sCT Active","sCT Inactive"],"range":["#800000","#80ff80"]},"legend":null},"order":{"field":"r","type":"quantitative","sort":"descending"}}},
{"data":{"name":"ls"},"mark":{"type":"circle","opacity":0},"encoding":{"color":{"field":"st","type":"nominal","scale":{"domain":["sCT Active","sCT Inactive"],"range":["#85142d","#47e84a"]},"legend":{"title":null,"orient":"none","legendX":148,"legendY":637,"symbolType":"circle","symbolSize":529,"symbolOpacity":1,"labelFontSize":26,"labelOffset":25,"rowPadding":7,"padding":8}}}}],"resolve":{"scale":{"color":"independent"}}},
{"title":{"text":"Overlapping Active = 829","fontSize":36,"fontWeight":"bold","offset":-3},"width":503,"height":507,"layer":[{"data":{"name":"pts"},"transform":[{"calculate":"datum.b=='I'?'Overlapping Inactive':datum.b=='R'?'rCT Active Only':datum.b=='S'?'sCT Active Only':'Overlapping Active'","as":"st"},{"calculate":"datum.x*datum.x+datum.y*datum.y","as":"r"}],"mark":{"type":"circle","size":210,"stroke":"black","strokeWidth":2.5,"opacity":1},"encoding":{"x":{"field":"x","type":"quantitative","title":"X [mm]","scale":{"domain":[-145,153],"nice":false,"zero":false},"axis":{"values":[-100,0,100],"labelExpr":"replace(datum.label,'−','-')","tickSize":-8,"grid":true,"labelPadding":16,"titlePadding":14}},"y":{"field":"y","type":"quantitative","title":"Y [mm]","scale":{"domain":[-150,150],"nice":false,"zero":false},"axis":{"values":[-100,-50,0,50,100],"labelExpr":"replace(datum.label,'−','-')","tickSize":-8,"grid":true,"labelPadding":10,"titlePadding":14}},"color":{"field":"st","type":"nominal","scale":{"domain":["Overlapping Active","Overlapping Inactive","rCT Active Only","sCT Active Only"],"range":["#ff8000","#80ff80","#000080","#800000"]},"legend":null},"order":{"field":"r","type":"quantitative","sort":"descending"}}},
{"data":{"name":"lo"},"mark":{"type":"circle","opacity":0},"encoding":{"color":{"field":"st","type":"nominal","scale":{"domain":["Overlapping Active","Overlapping Inactive","rCT Active Only","sCT Active Only"],"range":["#d95319","#47e84a","#000080","#85142d"]},"legend":{"title":null,"orient":"none","legendX":120,"legendY":632,"symbolType":"M-1,-0.6H1V0.6H-1Z","symbolSize":1024,"symbolOpacity":1,"symbolStrokeColor":"#444","symbolStrokeWidth":1,"labelFontSize":24,"labelOffset":2,"rowPadding":4,"padding":3}}}}],"resolve":{"scale":{"color":"independent"}}}
],"resolve":{"scale":{"color":"independent"}}}],"resolve":{"scale":{"color":"independent"}}}
],"resolve":{"scale":{"color":"independent"}}}],"resolve":{"scale":{"color":"independent"}}},
{"spacing":1063,"bounds":"flush","vconcat":[
{"title":{"text":"C","font":"Noto Sans","fontSize":70,"fontWeight":"normal","anchor":"start","frame":"group","baseline":"alphabetic","offset":-73,"dx":-62},"bounds":"flush","vconcat":[
{"title":{"text":"Distribution of Elements","fontSize":37,"fontWeight":"bold","offset":-9},"width":1335,"height":708,"data":{"name":"bars"},"transform":[{"fold":["Overlapping Active","Overlapping Inactive","rCT Active Only","sCT Active Only"],"as":["s","n"]},{"calculate":"indexof(['Overlapping Active','Overlapping Inactive','rCT Active Only','sCT Active Only'],datum.s)","as":"o"},{"stack":"n","groupby":["Dataset"],"sort":[{"field":"o","order":"ascending"}],"as":["y0","y1"]}],"layer":[
{"mark":{"type":"bar","stroke":"#222","strokeWidth":1.5,"clip":true},"encoding":{"x":{"field":"Dataset","type":"ordinal","title":"Dataset","scale":{"paddingInner":0.2,"paddingOuter":0.645,"align":0.608},"axis":{"labelAngle":0,"tickSize":-10,"labelPadding":34,"titlePadding":5,"grid":false,"titleFontSize":36}},"y":{"field":"y1","type":"quantitative","title":"Number of Elements (#)","scale":{"domain":[800,1000],"nice":false,"zero":false},"axis":{"values":[800,850,900,950,1000],"format":"d","tickSize":-10,"grid":true,"labelPadding":12,"titlePadding":14,"titleFontSize":36}},"y2":{"field":"y0"},"color":{"field":"s","type":"nominal","scale":{"domain":["Overlapping Active","Overlapping Inactive","rCT Active Only","sCT Active Only"],"range":["#d95319","#47e84a","#000080","#85142d"]},"legend":{"title":null,"orient":"none","legendX":478,"legendY":844,"symbolType":"M-1,-0.6H1V0.6H-1Z","symbolSize":1764,"labelFontSize":33,"labelOffset":2,"rowPadding":4,"padding":4,"symbolStrokeColor":"#444","symbolStrokeWidth":1}}}},
{"mark":{"type":"text","color":"white","fontSize":12,"baseline":"top","dy":5},"encoding":{"x":{"field":"Dataset","type":"ordinal","axis":{"orient":"top","labels":false,"title":null,"tickSize":-10,"grid":false},"scale":{"paddingInner":0.2,"paddingOuter":0.645,"align":0.608}},"y":{"field":"y1","type":"quantitative","scale":{"domain":[800,1000],"nice":false,"zero":false},"axis":{"orient":"right","labels":false,"title":null,"values":[800,850,900,950,1000],"tickSize":-10,"grid":false}},"text":{"field":"n","type":"quantitative"}}}
],"resolve":{"axis":{"x":"independent","y":"independent"}}}],"resolve":{"scale":{"color":"independent"}}},
{"spacing":209,"bounds":"flush","hconcat":[
{"width":1,"height":1,"data":{"values":[{"s":1}]},"mark":{"type":"point","opacity":0},"encoding":{}},
{"title":{"text":"D","font":"Noto Sans","fontSize":70,"fontWeight":"normal","anchor":"start","frame":"group","baseline":"alphabetic","offset":-127,"dx":-270},"spacing":0,"bounds":"flush","vconcat":[
{"width":892,"height":183,"data":{"name":"t1"},"encoding":{"x":{"field":"c","type":"nominal","axis":null,"scale":{"paddingInner":0,"paddingOuter":0}},"y":{"field":"r","type":"nominal","axis":null,"sort":null,"scale":{"paddingInner":0,"paddingOuter":0}}},"layer":[{"mark":{"type":"rect","fill":"white","stroke":"black","strokeWidth":4}},{"mark":{"type":"text","font":"Noto Sans","fontSize":39,"color":"black"},"encoding":{"text":{"field":"t"}}}]},
{"width":892,"height":161,"data":{"name":"t2"},"encoding":{"x":{"field":"c","type":"nominal","axis":null,"scale":{"paddingInner":0,"paddingOuter":0}},"y":{"field":"r","type":"nominal","axis":null,"sort":null,"scale":{"paddingInner":0,"paddingOuter":0}}},"layer":[{"mark":{"type":"rect","fill":"white","stroke":"black","strokeWidth":4}},{"mark":{"type":"text","font":"Noto Sans","fontSize":39,"color":"black"},"encoding":{"text":{"field":"t"}}}]}
]}]}
],"resolve":{"scale":{"color":"independent"}}}
],"spacing":2122,"bounds":"flush","resolve":{"scale":{"color":"independent"}}}
